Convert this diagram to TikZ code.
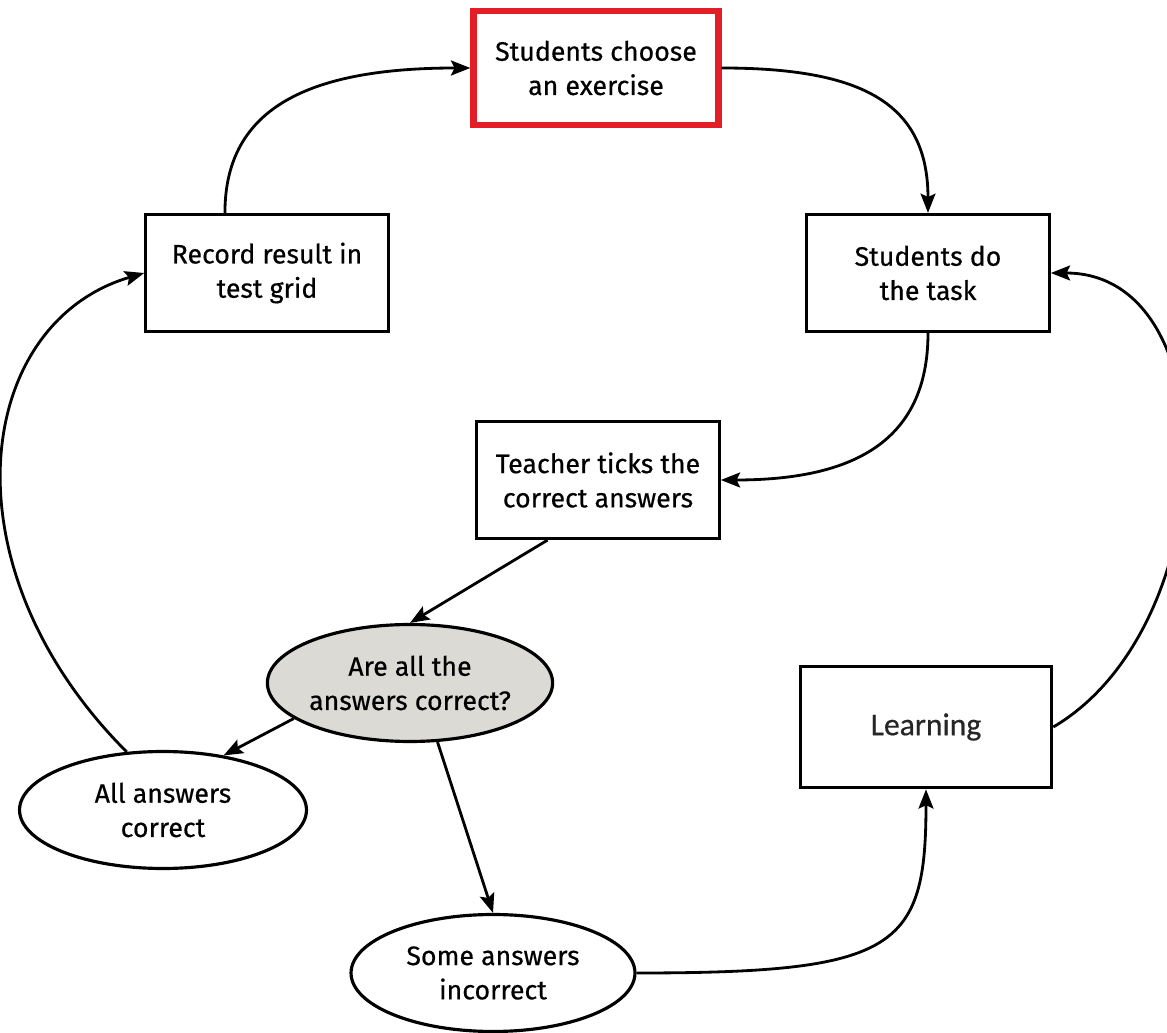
\documentclass[tikz,border=0pt]{standalone}
\usepackage{fontspec}
\setmainfont{Fira Sans}[FakeBold=0.5]
\newfontfamily\learnfont{Carlito}[FakeBold=0.6]
\usepackage{tikz}
\usetikzlibrary{arrows.meta}
\usetikzlibrary{shapes.geometric}
\definecolor{boxred}{RGB}{228,30,38}
\definecolor{askgray}{RGB}{220,218,212}

\begin{document}
\begin{tikzpicture}[x=0.02cm, y=-0.02cm,
    font=\fontsize{15.2}{19.5}\selectfont,
    stepbox/.style={draw, line width=1.8pt, align=center, inner sep=0pt, minimum width=4.85cm, minimum height=2.34cm},
    oval/.style={draw, ellipse, line width=1.8pt, align=center, inner sep=0pt, minimum width=5.64cm, minimum height=2.34cm},
    link/.style={-{Stealth[length=11pt, width=8.5pt, inset=2pt]}, line width=1.6pt}]
    \useasboundingbox (0,0) rectangle (1167,1033);
    \node[stepbox, draw=boxred, line width=3.6pt, minimum width=4.9cm, minimum height=2.28cm] (choose) at (596,68) {Students choose\\an exercise};
    \node[stepbox] (record) at (267,273) {Record result in\\test grid};
    \node[stepbox] (dotask) at (928,273) {Students do\\the task};
    \node[stepbox] (ticks) at (598,480) {Teacher ticks the\\correct answers};
    \node[oval, fill=askgray] (question) at (410,683) {Are all the\\answers correct?};
    \node[oval, minimum width=5.74cm] (allok) at (163,810) {All answers\\correct};
    \node[oval, minimum width=5.68cm] (someno) at (493,973) {Some answers\\incorrect};
    \node[stepbox, minimum width=5.03cm, minimum height=2.43cm, text=black!85, font=\learnfont\fontsize{18}{22}\selectfont] (learn) at (926,727) {Learning};
    \draw[link] (record.125) .. controls +(0,-100) and +(-170,0) .. (choose.west);
    \draw[link] (choose.east) .. controls +(140,0) and +(0,-110) .. (dotask.north);
    \draw[link] (dotask.south) .. controls +(0,110) and +(130,0) .. (ticks.east);
    \draw[link] (ticks.230) -- (question.north);
    \draw[link] (question.197) -- (allok.42);
    \draw[link] (question.295) -- (someno.north);
    \draw[link] (allok.122) .. controls +(-185,-185) and +(-170,50) .. (record.west);
    \draw[link] (someno.east) .. controls +(260,0) and +(0,160) .. (learn.south);
    \draw[link] (learn.east) .. controls +(170,-100) and +(180,0) .. (dotask.east);
\end{tikzpicture}
\end{document}
